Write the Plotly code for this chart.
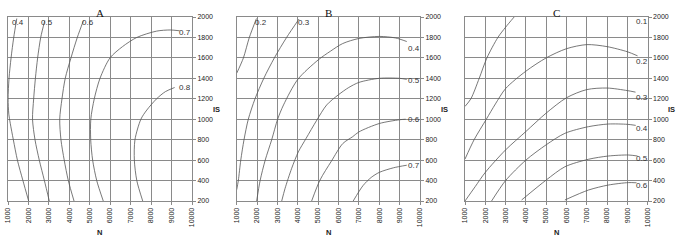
import plotly.graph_objects as go

# ---------------- axis ticks ----------------
n_ticks = [1000, 2000, 3000, 4000, 5000, 6000, 7000, 8000, 9000, 10000]
is_ticks = [200, 400, 600, 800, 1000, 1200, 1400, 1600, 1800, 2000]
panel_titles = ["A", "B", "C"]

# ---------------- Panel A contour lines (N, IS) ----------------
a_04_n = [1430, 1280, 1150, 1050, 1005, 1040, 1110, 1260, 1460, 1730, 2010]
a_04_is = [1985, 1800, 1600, 1400, 1200, 1050, 960, 800, 600, 400, 200]
a_05_n = [2800, 2600, 2450, 2340, 2255, 2200, 2320, 2530, 2780, 3020]
a_05_is = [1965, 1800, 1600, 1400, 1200, 1000, 800, 600, 400, 200]
a_06_n = [4690, 4390, 4080, 3800, 3640, 3530, 3590, 3750, 3950, 4230]
a_06_is = [1965, 1800, 1600, 1400, 1200, 1000, 800, 600, 400, 200]
a_07_n = [5660, 5340, 5140, 5045, 5050, 5220, 5500, 5990, 6600, 7300, 8270, 8930, 9400]
a_07_is = [200, 400, 600, 800, 1000, 1200, 1400, 1600, 1710, 1800, 1862, 1873, 1865]
a_08_n = [7590, 7300, 7180, 7210, 7500, 7790, 8270, 8700, 9150]
a_08_is = [200, 400, 600, 800, 1000, 1090, 1200, 1270, 1310]
a_levels = ["0.4", "0.5", "0.6", "0.7", "0.8"]
a_label_n = [1470, 2900, 4890, 9650, 9650]
a_label_is = [1945, 1945, 1945, 1846, 1308]

# ---------------- Panel B contour lines ----------------
b_02_n = [1970, 1620, 1330, 1000]
b_02_is = [1985, 1800, 1600, 1450]
b_03_n = [1000, 1080, 1200, 1360, 1570, 1900, 2330, 2850, 3450, 4060]
b_03_is = [310, 400, 600, 800, 1000, 1200, 1400, 1600, 1800, 1980]
b_04_n = [1980, 2150, 2400, 2720, 3010, 3300, 4000, 5000, 5600, 6200, 7000, 8000, 8800, 9350]
b_04_is = [200, 400, 600, 800, 1000, 1140, 1390, 1580, 1665, 1740, 1790, 1810, 1795, 1760]
b_05_n = [3210, 3370, 3700, 4025, 4400, 4930, 5420, 6000, 6500, 7000, 8000, 9000, 9350]
b_05_is = [200, 320, 520, 680, 810, 990, 1140, 1240, 1310, 1360, 1400, 1400, 1390]
b_06_n = [4680, 5090, 5650, 6210, 6700, 7000, 8000, 9000, 9300]
b_06_is = [200, 405, 590, 762, 830, 876, 958, 995, 1000]
b_07_n = [6720, 7200, 7600, 8000, 8700, 9350]
b_07_is = [200, 350, 430, 480, 525, 550]
b_levels = ["0.2", "0.3", "0.4", "0.5", "0.6", "0.7"]
b_label_n = [2180, 4290, 9700, 9700, 9700, 9700]
b_label_is = [1946, 1946, 1690, 1375, 995, 548]

# ---------------- Panel C contour lines ----------------
c_01_n = [1000, 1290, 1700, 2080, 2620, 3000, 3420]
c_01_is = [1125, 1200, 1400, 1600, 1800, 1900, 2000]
c_02_n = [1000, 1450, 2050, 2500, 3000, 4000, 5000, 6000, 7000, 8000, 9000, 9500]
c_02_is = [610, 800, 1000, 1150, 1300, 1470, 1600, 1690, 1730, 1710, 1660, 1620]
c_03_n = [1000, 1500, 2000, 3000, 4000, 5000, 6000, 7000, 8000, 9000, 9400]
c_03_is = [200, 340, 480, 700, 880, 1060, 1210, 1290, 1305, 1280, 1265]
c_04_n = [2310, 3000, 4000, 5000, 5920, 7080, 8060, 9000, 9410]
c_04_is = [200, 400, 600, 750, 862, 927, 953, 950, 940]
c_05_n = [3790, 5000, 5920, 7080, 8060, 9050, 9500]
c_05_is = [210, 405, 535, 608, 640, 650, 640]
c_06_n = [5920, 7080, 8060, 9050, 9450]
c_06_is = [210, 307, 356, 380, 378]
c_levels = ["0.1", "0.2", "0.3", "0.4", "0.5", "0.6"]
c_label_n = [9720, 9720, 9720, 9720, 9720, 9720]
c_label_is = [1960, 1568, 1210, 908, 615, 355]

panels = [
    ([(a_04_n, a_04_is), (a_05_n, a_05_is), (a_06_n, a_06_is), (a_07_n, a_07_is), (a_08_n, a_08_is)],
     a_levels, a_label_n, a_label_is),
    ([(b_02_n, b_02_is), (b_03_n, b_03_is), (b_04_n, b_04_is), (b_05_n, b_05_is), (b_06_n, b_06_is), (b_07_n, b_07_is)],
     b_levels, b_label_n, b_label_is),
    ([(c_01_n, c_01_is), (c_02_n, c_02_is), (c_03_n, c_03_is), (c_04_n, c_04_is), (c_05_n, c_05_is), (c_06_n, c_06_is)],
     c_levels, c_label_n, c_label_is),
]

W, H = 685, 243
x_px = [(8, 192), (236.7, 420), (465, 647.7)]
y_top_px, y_bot_px = 17, 201
grid_col = "#8a8a8a"
line_col = "#555555"
txt_col = "#222222"
sans = "Arial, Liberation Sans, sans-serif"

fig = go.Figure()
layout = dict(
    width=W, height=H,
    margin=dict(l=0, r=0, t=0, b=0, autoexpand=False),
    paper_bgcolor="white", plot_bgcolor="white",
    showlegend=False,
    annotations=[],
)

for i, (lines, levels, lab_n, lab_is) in enumerate(panels):
    sfx = "" if i == 0 else str(i + 1)
    xa, ya = "x" + sfx, "y" + sfx
    for (nn, ii) in lines:
        fig.add_trace(go.Scatter(
            x=nn, y=ii, mode="lines", xaxis=xa, yaxis=ya,
            line=dict(color=line_col, width=0.8, shape="spline", smoothing=0.8),
            hoverinfo="skip"))
    x0, x1 = x_px[i]
    dom_x = [x0 / W, x1 / W]
    dom_y = [1 - y_bot_px / H, 1 - y_top_px / H]
    layout["xaxis" + sfx] = dict(
        domain=dom_x, range=[1000, 10000], tickvals=n_ticks,
        ticktext=[str(v) for v in n_ticks], tickangle=-90,
        tickfont=dict(family=sans, size=7, color=txt_col),
        showgrid=True, gridcolor=grid_col, gridwidth=1,
        showline=True, linecolor=grid_col, linewidth=1, mirror=True,
        ticks="outside", ticklen=3, tickcolor=grid_col,
        zeroline=False, anchor=ya, fixedrange=True)
    layout["yaxis" + sfx] = dict(
        domain=dom_y, range=[200, 2000], tickvals=is_ticks,
        ticktext=[str(v) for v in is_ticks], side="right",
        tickfont=dict(family=sans, size=7, color=txt_col),
        showgrid=True, gridcolor=grid_col, gridwidth=1,
        showline=True, linecolor=grid_col, linewidth=1, mirror=True,
        ticks="outside", ticklen=3, tickcolor=grid_col,
        zeroline=False, anchor=xa, fixedrange=True)
    for lv, ln, li in zip(levels, lab_n, lab_is):
        layout["annotations"].append(dict(
            x=ln, y=li, xref=xa, yref=ya, text=lv, showarrow=False,
            font=dict(family=sans, size=8, color="#333333"),
            xanchor="center", yanchor="middle"))
    # panel title
    layout["annotations"].append(dict(
        x=(x0 + x1) / 2 / W, y=1 - 12.5 / H, xref="paper", yref="paper",
        text=panel_titles[i], showarrow=False,
        font=dict(family="Liberation Serif, Times New Roman, serif", size=11, color="#111111"),
        xanchor="center", yanchor="middle"))
    # axis titles
    layout["annotations"].append(dict(
        x=(x0 + x1) / 2 / W, y=1 - 232.5 / H, xref="paper", yref="paper",
        text="<b>N</b>", showarrow=False,
        font=dict(family=sans, size=7.5, color=txt_col),
        xanchor="center", yanchor="middle"))
    layout["annotations"].append(dict(
        x=(x1 + 24) / W, y=1 - 109 / H, xref="paper", yref="paper",
        text="<b>IS</b>", showarrow=False,
        font=dict(family=sans, size=7.5, color=txt_col),
        xanchor="center", yanchor="middle"))

fig.update_layout(**layout)
fig.write_html(
    "out.html",
    config={"displayModeBar": False, "staticPlot": True},
    post_script="document.body.style.margin='0';document.body.style.padding='0';"
                "document.documentElement.style.margin='0';document.body.style.overflow='hidden';",
)
